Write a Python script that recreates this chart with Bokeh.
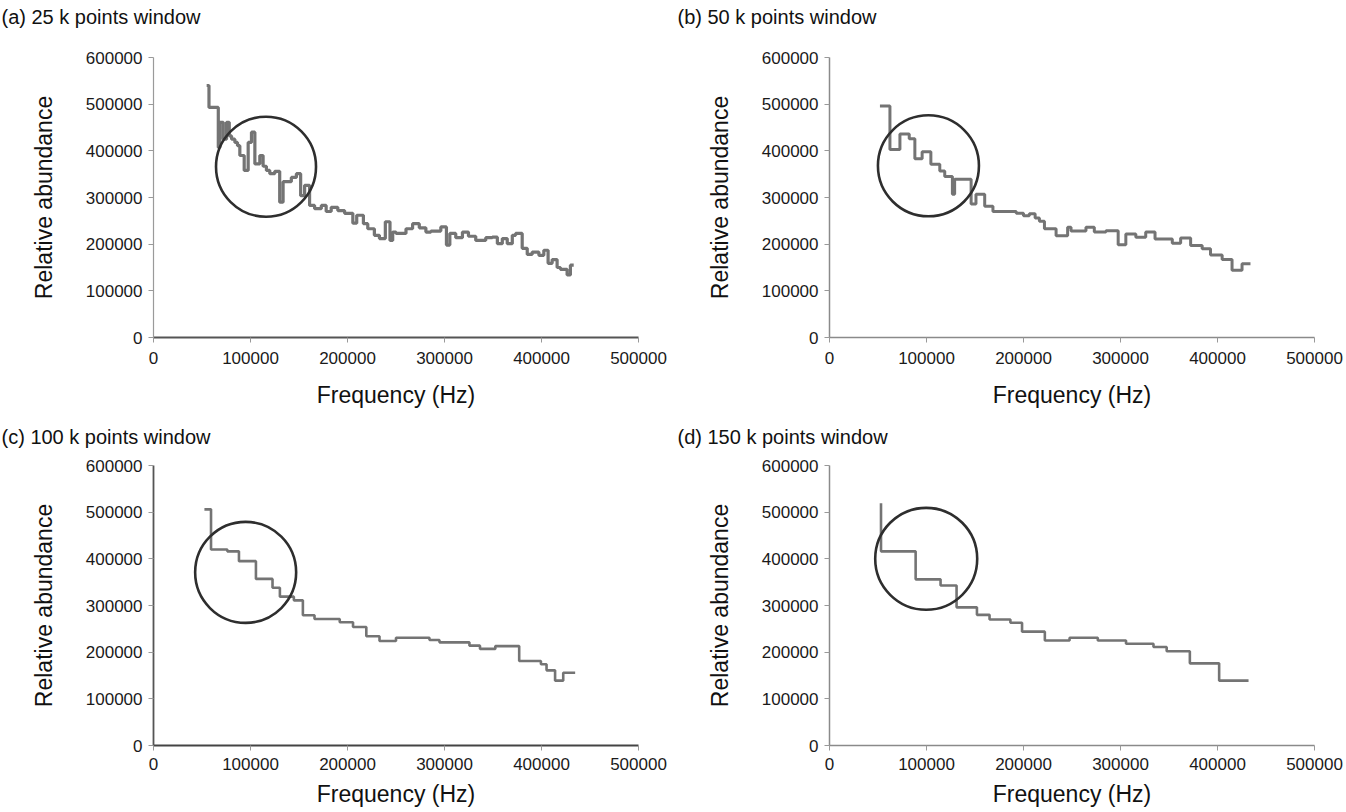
from bokeh.plotting import figure
from bokeh.layouts import column, row
from bokeh.models import Range1d, FixedTicker
from bokeh.embed import file_html
from bokeh.resources import INLINE

# ---------------- data ----------------
x_ticks = [0, 100000, 200000, 300000, 400000, 500000]
x_tick_labels = ["0", "100000", "200000", "300000", "400000", "500000"]
y_ticks = [0, 100000, 200000, 300000, 400000, 500000, 600000]
y_tick_labels = ["0", "100000", "200000", "300000", "400000", "500000", "600000"]

panel_titles = ["(a) 25 k points window", "(b) 50 k points window",
                "(c) 100 k points window", "(d) 150 k points window"]
x_title = "Frequency (Hz)"
y_title = "Relative abundance"

a_freq = [54800, 57200, 66800, 68500, 71900, 75300, 78100, 80500, 83900, 86600,
          89000, 93500, 97600, 101000, 104500, 109600, 113000, 116400, 119900, 125000,
          130100, 133600, 142100, 147300, 151700, 155800, 160900, 166100, 173000, 178000,
          183200, 190000, 197000, 205500, 209500, 216400, 220900, 227700, 232900, 239000,
          243800, 246600, 250000, 260300, 267100, 274000, 280800, 286000, 296200, 302000,
          305500, 311600, 318500, 324700, 332200, 342500, 349300, 354500, 359600, 364700,
          369900, 373300, 380100, 385300, 390400, 397300, 402400, 406800, 411000, 416100,
          419500, 426400, 429800, 433200]
a_abund = [540000, 493000, 407000, 461000, 425000, 461000, 432000, 425000, 418000, 411000,
           390000, 358000, 418000, 440000, 372000, 390000, 367000, 358000, 351000, 356000,
           290000, 334000, 343000, 351000, 304000, 326000, 283000, 276000, 283000, 270000,
           279000, 272000, 266000, 245000, 262000, 244000, 233000, 219000, 212000, 248000,
           208000, 226000, 223000, 233000, 244000, 235000, 226000, 228000, 237000, 198000,
           223000, 214000, 226000, 217000, 208000, 214000, 215000, 201000, 212000, 201000,
           219000, 223000, 191000, 178000, 183000, 176000, 187000, 159000, 167000, 150000,
           146000, 134000, 155000, 155000]

b_freq = [52000, 62300, 72600, 82200, 88000, 95500, 104500, 113700, 118800, 126700,
          129000, 146000, 151000, 160000, 168500, 192500, 200000, 206000, 212000, 216400,
          221600, 233600, 245500, 249000, 264400, 273000, 285000, 297600, 305500, 315800,
          326000, 335600, 353400, 362000, 372300, 384200, 392800, 404800, 415000, 425300,
          434000]
b_abund = [496000, 403000, 436000, 426000, 383000, 398000, 371000, 357000, 345000, 307000,
           339000, 286000, 307000, 281000, 270000, 266000, 261000, 265000, 256000, 249000,
           233000, 218000, 236000, 228000, 236000, 226000, 229000, 199000, 222000, 215000,
           226000, 211000, 202000, 213000, 197000, 190000, 177000, 167000, 144000, 158000,
           158000]

c_freq = [52500, 59300, 76100, 88100, 105600, 122700, 130300, 144700, 154000, 166000,
          192000, 205700, 219400, 233000, 250000, 284500, 294800, 325700, 336600, 352400,
          377000, 399400, 405200, 414000, 422400, 434700]
c_abund = [506000, 420000, 416000, 395000, 357000, 338000, 319000, 311000, 279000, 271000,
           264000, 254000, 234000, 224000, 231000, 226000, 221000, 214000, 207000, 213000,
           181000, 174000, 161000, 139000, 156000, 156000]

d_freq = [53100, 53100, 88800, 114500, 131000, 152000, 165000, 186500, 198500, 222000,
          247500, 276600, 305700, 334000, 347600, 371500, 401700, 432000]
d_abund = [519000, 416000, 356000, 343000, 296000, 280000, 270000, 263000, 244000, 225000,
           231000, 225000, 218000, 211000, 202000, 176000, 139000, 139000]

# highlighted region (circle centre) per panel
circle_freq = [116000, 102000, 95000, 99700]
circle_abund = [366000, 368000, 371000, 400000]

FONT = "Liberation Sans"


def title_bar(text, width, height=36):
    """A thin figure that only carries the panel caption."""
    t = figure(width=width, height=height, output_backend="svg", toolbar_location=None,
               x_axis_type=None, y_axis_type=None,
               x_range=Range1d(0, 1), y_range=Range1d(0, 1),
               min_border_left=0, min_border_right=0, min_border_top=0,
               min_border_bottom=0)
    t.outline_line_color = None
    t.background_fill_color = "white"
    t.border_fill_color = "white"
    t.title.text = text
    t.title.align = "left"
    t.title.offset = 1
    t.title.standoff = 7
    t.title.text_font = FONT
    t.title.text_font_size = "20px"
    t.title.text_font_style = "normal"
    t.title.text_color = "#111111"
    return t


def make_panel(freq, abund, cfreq, cab, *, width, height, b_left, b_right,
               b_top, b_bottom, xlab_standoff, xtitle_standoff,
               xaxis_color, xaxis_w, yaxis_color, yaxis_w, line_w, circ_size):
    p = figure(width=width, height=height, output_backend="svg", toolbar_location=None,
               x_range=Range1d(0, 500000), y_range=Range1d(0, 600000),
               min_border_left=b_left, min_border_right=b_right,
               min_border_top=b_top, min_border_bottom=b_bottom)
    p.outline_line_color = None
    p.grid.visible = False
    p.background_fill_color = "white"
    p.border_fill_color = "white"

    xa = p.xaxis[0]
    xa.ticker = FixedTicker(ticks=x_ticks)
    xa.major_label_overrides = dict(zip(x_ticks, x_tick_labels))
    xa.axis_label = x_title
    ya = p.yaxis[0]
    ya.ticker = FixedTicker(ticks=y_ticks)
    ya.major_label_overrides = dict(zip(y_ticks, y_tick_labels))
    ya.axis_label = y_title

    for ax, col, w in ((xa, xaxis_color, xaxis_w), (ya, yaxis_color, yaxis_w)):
        ax.axis_line_color = col
        ax.axis_line_width = w
        ax.major_tick_line_color = "#999999"
        ax.major_tick_in = 0
        ax.major_tick_out = 5
        ax.minor_tick_line_color = None
        ax.major_label_text_font = FONT
        ax.major_label_text_font_size = "17px"
        ax.major_label_text_color = "#1a1a1a"
        ax.axis_label_text_font = FONT
        ax.axis_label_text_font_size = "23px"
        ax.axis_label_text_font_style = "normal"
        ax.axis_label_text_color = "#111111"
    xa.major_label_standoff = xlab_standoff
    xa.axis_label_standoff = xtitle_standoff
    ya.major_label_standoff = 6
    ya.axis_label_standoff = 26

    p.step(x=freq, y=abund, mode="after", line_color="#747474", line_width=line_w)
    p.scatter(x=[cfreq], y=[cab], marker="circle", size=circ_size,
              fill_color=None, line_color="#2e2e2e", line_width=2.6)
    return p


row1 = dict(height=384, b_top=21, b_bottom=83, xlab_standoff=9, xtitle_standoff=15)
row2 = dict(height=354, b_top=9, b_bottom=65, xlab_standoff=7, xtitle_standoff=8)
col1 = dict(width=676, b_left=153, b_right=38)
col2 = dict(width=668, b_left=153, b_right=30)

pa = make_panel(a_freq, a_abund, circle_freq[0], circle_abund[0],
                xaxis_color="#555555", xaxis_w=1.8, yaxis_color="#9a9a9a", yaxis_w=1.2,
                line_w=3.2, circ_size=100, **row1, **col1)
pb = make_panel(b_freq, b_abund, circle_freq[1], circle_abund[1],
                xaxis_color="#8a8a8a", xaxis_w=1.5, yaxis_color="#8a8a8a", yaxis_w=1.5,
                line_w=3, circ_size=101, **row1, **col2)
pc = make_panel(c_freq, c_abund, circle_freq[2], circle_abund[2],
                xaxis_color="#444444", xaxis_w=2, yaxis_color="#555555", yaxis_w=1.8,
                line_w=2.6, circ_size=101, **row2, **col1)
pd_ = make_panel(d_freq, d_abund, circle_freq[3], circle_abund[3],
                 xaxis_color="#8a8a8a", xaxis_w=1.5, yaxis_color="#8a8a8a", yaxis_w=1.5,
                 line_w=2.6, circ_size=102, **row2, **col2)

ta = title_bar(panel_titles[0], col1["width"])
tb = title_bar(panel_titles[1], col2["width"])
tc = title_bar(panel_titles[2], col1["width"])
td = title_bar(panel_titles[3], col2["width"])

layout = column(row(ta, tb), row(pa, pb), row(tc, td), row(pc, pd_))
open("out.html", "w").write(file_html(layout, INLINE))
